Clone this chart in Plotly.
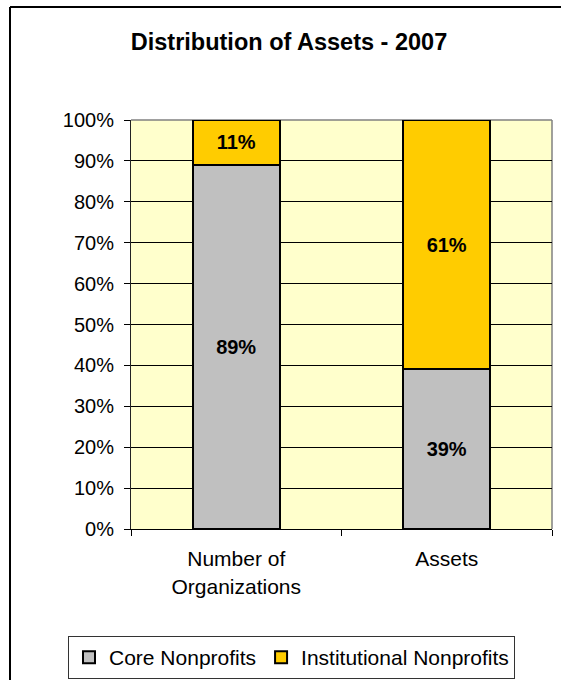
import plotly.graph_objects as go

categories = ["Number of<br>Organizations", "Assets"]
series_names = ["Core Nonprofits", "Institutional Nonprofits"]
core_values = [0.89, 0.39]
institutional_values = [0.11, 0.61]
y_ticks = [0, 0.1, 0.2, 0.3, 0.4, 0.5, 0.6, 0.7, 0.8, 0.9, 1.0]
title_text = "Distribution of Assets - 2007"

FONT = "Liberation Sans, Arial, sans-serif"
W, H = 561, 680
L, R, T, B = 131, 9, 120, 151
pw, ph = W - L - R, H - T - B

def px_x(x):
    return (x - L) / pw

def px_y(y):
    return (H - B - y) / ph

fig = go.Figure()
for name, vals, color in [
    (series_names[0], core_values, "#C0C0C0"),
    (series_names[1], institutional_values, "#FFCC00"),
]:
    fig.add_trace(go.Bar(
        x=categories, y=vals, name=name,
        marker=dict(color=color, line=dict(color="black", width=2)),
        text=[f"{v:.0%}" for v in vals],
        textposition="inside", insidetextanchor="middle", textangle=0,
        textfont=dict(family=FONT, size=20, color="black", weight="bold"),
        hoverinfo="skip",
    ))

fig.update_layout(
    width=W, height=H,
    margin=dict(l=L, r=R, t=T, b=B, pad=0, autoexpand=False),
    barmode="stack", bargap=0.587,
    paper_bgcolor="white", plot_bgcolor="#FFFFCC",
    font=dict(family=FONT, color="black"),
    title=dict(text=title_text, x=289 / W, xanchor="center",
               y=1 - 41.5 / H, yanchor="middle", yref="container",
               font=dict(family=FONT, size=23.5, color="black", weight="bold")),
    showlegend=True,
    legend=dict(orientation="h", x=px_x(68), y=px_y(636), xanchor="left", yanchor="top",
                bordercolor="#333333", borderwidth=1, bgcolor="white",
                font=dict(family=FONT, size=21, color="black"),
                traceorder="normal", itemsizing="constant"),
    xaxis=dict(type="category", showgrid=False, ticks="outside", tickson="boundaries",
               ticklen=6, tickcolor="black", showline=True, linecolor="black", linewidth=1,
               ticklabelstandoff=11, automargin=False,
               tickfont=dict(family=FONT, size=21, color="black"), fixedrange=True),
    yaxis=dict(range=[0, 1], tickvals=y_ticks, tickformat=".0%", showgrid=True,
               gridcolor="black", gridwidth=1, ticks="outside", ticklen=6, tickcolor="black",
               showline=True, linecolor="#222222", linewidth=1, zeroline=False,
               ticklabelstandoff=6, automargin=False,
               tickfont=dict(family=FONT, size=20, color="black"), fixedrange=True),
    shapes=[
        # plot-area border (top and right), grey
        dict(type="line", xref="paper", yref="paper", x0=0, x1=1, y0=1, y1=1,
             line=dict(color="#808080", width=1.5), layer="between"),
        dict(type="line", xref="paper", yref="paper", x0=1, x1=1, y0=0, y1=1,
             line=dict(color="#808080", width=1.5), layer="between"),
        # outer chart frame (top and left edges visible)
        dict(type="line", xref="paper", yref="paper",
             x0=px_x(10), x1=px_x(W), y0=px_y(7), y1=px_y(7),
             line=dict(color="black", width=2), layer="above"),
        dict(type="line", xref="paper", yref="paper",
             x0=px_x(10), x1=px_x(10), y0=px_y(H), y1=px_y(7),
             line=dict(color="black", width=2), layer="above"),
    ],
)

fig.write_html(
    "out.html",
    config={"displayModeBar": False, "staticPlot": True},
    post_script="document.body.style.margin='0px';document.body.style.overflow='hidden';",
)
